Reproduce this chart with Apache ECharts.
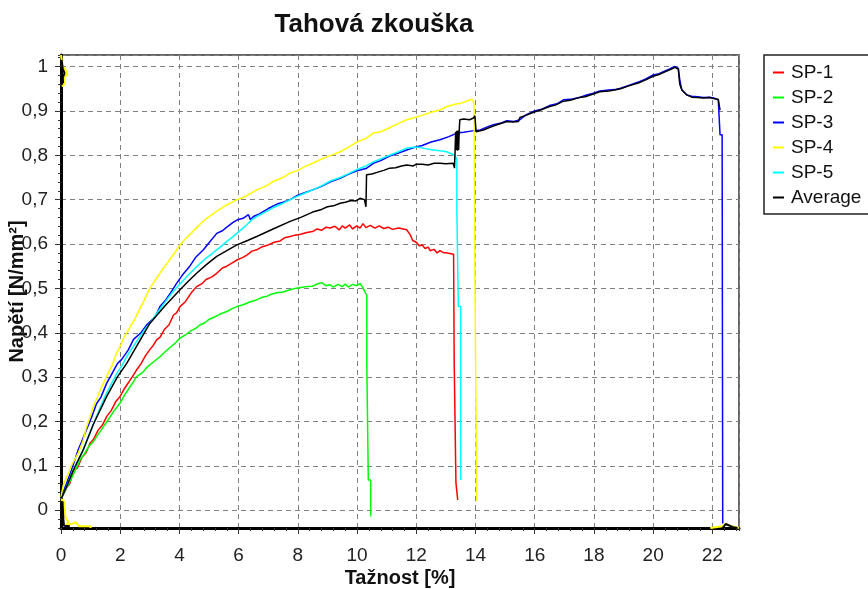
<!DOCTYPE html>
<html>
<head>
<meta charset="utf-8">
<script src="https://cdn.jsdelivr.net/npm/echarts@6.0.0/dist/echarts.min.js"></script>
<style>
html,body{margin:0;padding:0;background:#fff;}
#chart{width:868px;height:589px;}
</style>
</head>
<body>
<div id="chart"></div>
<script>
const chartTitle = 'Tahová zkouška';
const xAxisTitle = 'Tažnost [%]';
const yAxisTitle = 'Napětí [N/mm²]';
const seriesNames = ['SP-1', 'SP-2', 'SP-3', 'SP-4', 'SP-5', 'Average'];
const seriesColors = ['#ff0000', '#00ff00', '#0000ff', '#ffff00', '#00ffff', '#000000'];
const xTickLabels = ['0','2','4','6','8','10','12','14','16','18','20','22'];
const yTickLabels = ['0','0,1','0,2','0,3','0,4','0,5','0,6','0,7','0,8','0,9','1'];

const sp1 = [[0,0.025],[0.2,0.052],[0.3,0.06],[0.42,0.09],[0.55,0.095],[0.7,0.118],[0.85,0.13],[0.98,0.151],[1.1,0.16],[1.25,0.18],[1.4,0.192],[1.54,0.211],[1.7,0.225],[1.85,0.245],[1.99,0.256],[2.15,0.275],[2.3,0.29],[2.45,0.305],[2.55,0.316],[2.7,0.33],[2.85,0.348],[3.0,0.362],[3.1,0.37],[3.23,0.384],[3.35,0.39],[3.5,0.408],[3.65,0.418],[3.8,0.44],[3.9,0.445],[4.02,0.459],[4.2,0.47],[4.4,0.49],[4.58,0.504],[4.75,0.51],[4.9,0.52],[5.1,0.526],[5.26,0.534],[5.45,0.546],[5.6,0.55],[5.8,0.558],[5.94,0.564],[6.15,0.57],[6.3,0.576],[6.45,0.584],[6.61,0.587],[6.8,0.594],[7.0,0.598],[7.2,0.604],[7.4,0.607],[7.55,0.614],[7.74,0.617],[7.9,0.62],[8.1,0.622],[8.3,0.626],[8.5,0.628],[8.65,0.634],[8.8,0.631],[8.95,0.638],[9.09,0.636],[9.25,0.64],[9.4,0.632],[9.5,0.641],[9.6,0.636],[9.75,0.643],[9.85,0.634],[9.99,0.641],[10.1,0.636],[10.2,0.646],[10.3,0.637],[10.45,0.642],[10.6,0.636],[10.75,0.641],[10.9,0.635],[11.05,0.638],[11.2,0.633],[11.4,0.636],[11.68,0.632],[11.8,0.62],[11.88,0.608],[12.0,0.604],[12.1,0.596],[12.2,0.598],[12.3,0.59],[12.4,0.593],[12.47,0.585],[12.6,0.588],[12.7,0.58],[12.8,0.585],[12.9,0.581],[13.05,0.58],[13.26,0.577],[13.28,0.577],[13.28,0.335],[13.34,0.335],[13.34,0.061],[13.4,0.061],[13.4,0.023]];

const sp2 = [[0,0.025],[0.15,0.045],[0.3,0.065],[0.45,0.085],[0.64,0.113],[0.8,0.128],[0.95,0.145],[1.1,0.155],[1.2,0.166],[1.35,0.18],[1.5,0.195],[1.65,0.21],[1.8,0.225],[1.99,0.241],[2.15,0.26],[2.3,0.275],[2.45,0.29],[2.55,0.301],[2.75,0.31],[2.9,0.322],[3.1,0.333],[3.34,0.346],[3.5,0.356],[3.7,0.368],[3.85,0.376],[4.02,0.388],[4.2,0.395],[4.4,0.405],[4.55,0.41],[4.7,0.418],[4.85,0.422],[5.0,0.43],[5.2,0.436],[5.4,0.443],[5.6,0.448],[5.8,0.455],[5.94,0.459],[6.15,0.463],[6.4,0.47],[6.6,0.474],[6.8,0.48],[6.95,0.482],[7.1,0.487],[7.3,0.49],[7.5,0.492],[7.74,0.497],[7.9,0.5],[8.1,0.502],[8.3,0.504],[8.5,0.505],[8.65,0.51],[8.8,0.513],[8.95,0.506],[9.09,0.508],[9.2,0.503],[9.35,0.509],[9.5,0.504],[9.6,0.51],[9.7,0.503],[9.85,0.509],[9.99,0.506],[10.1,0.511],[10.16,0.512],[10.21,0.50],[10.28,0.49],[10.33,0.485],[10.33,0.324],[10.38,0.324],[10.38,0.068],[10.46,0.068],[10.46,-0.014]];

const sp3 = [[0,0.025],[0.1,0.045],[0.19,0.061],[0.35,0.09],[0.45,0.11],[0.58,0.136],[0.7,0.155],[0.85,0.18],[1.04,0.211],[1.2,0.24],[1.35,0.255],[1.54,0.286],[1.7,0.305],[1.9,0.33],[2.05,0.34],[2.27,0.361],[2.45,0.385],[2.7,0.40],[2.9,0.418],[3.18,0.436],[3.35,0.46],[3.55,0.475],[3.7,0.49],[3.91,0.512],[4.1,0.53],[4.35,0.55],[4.55,0.57],[4.81,0.587],[5.0,0.603],[5.26,0.624],[5.45,0.63],[5.6,0.638],[5.8,0.648],[5.94,0.654],[6.15,0.658],[6.33,0.666],[6.4,0.655],[6.5,0.662],[6.7,0.668],[7.0,0.68],[7.3,0.69],[7.5,0.694],[7.74,0.70],[8.0,0.71],[8.25,0.716],[8.5,0.722],[8.8,0.73],[9.1,0.74],[9.43,0.748],[9.7,0.757],[10.0,0.765],[10.3,0.77],[10.55,0.782],[10.8,0.788],[11.1,0.798],[11.4,0.805],[11.68,0.812],[11.95,0.818],[12.2,0.822],[12.5,0.83],[12.8,0.835],[13.1,0.842],[13.37,0.85],[13.6,0.852],[13.9,0.855],[14.16,0.857],[14.4,0.864],[14.6,0.869],[14.83,0.872],[15.06,0.878],[15.3,0.876],[15.5,0.88],[15.7,0.891],[15.96,0.899],[16.2,0.903],[16.5,0.912],[16.75,0.916],[16.97,0.925],[17.2,0.926],[17.5,0.93],[17.75,0.936],[17.98,0.94],[18.2,0.945],[18.5,0.947],[18.7,0.948],[18.9,0.951],[19.2,0.958],[19.5,0.965],[19.75,0.972],[20.0,0.981],[20.2,0.984],[20.4,0.99],[20.6,0.996],[20.74,1.0],[20.85,0.996],[20.9,0.97],[20.97,0.947],[21.14,0.936],[21.3,0.933],[21.5,0.932],[21.7,0.93],[21.9,0.931],[22.04,0.929],[22.2,0.925],[22.26,0.925],[22.26,0.846],[22.33,0.846],[22.35,-0.03]];

const sp4 = [[0,0.03],[0.08,0.057],[0.25,0.083],[0.36,0.102],[0.58,0.128],[0.75,0.158],[0.85,0.185],[0.98,0.21],[1.1,0.235],[1.2,0.25],[1.35,0.275],[1.49,0.294],[1.6,0.31],[1.75,0.33],[1.85,0.35],[1.99,0.368],[2.1,0.385],[2.22,0.4],[2.35,0.415],[2.5,0.432],[2.67,0.455],[2.8,0.472],[2.9,0.486],[3.0,0.5],[3.1,0.51],[3.2,0.52],[3.35,0.535],[3.46,0.546],[3.6,0.558],[3.75,0.572],[3.9,0.586],[4.02,0.598],[4.15,0.608],[4.3,0.618],[4.45,0.628],[4.58,0.637],[4.75,0.648],[4.9,0.657],[5.1,0.666],[5.26,0.674],[5.45,0.682],[5.6,0.688],[5.8,0.695],[5.94,0.70],[6.1,0.703],[6.3,0.71],[6.45,0.716],[6.61,0.722],[6.9,0.73],[7.2,0.742],[7.5,0.75],[7.74,0.76],[8.0,0.766],[8.25,0.775],[8.5,0.782],[8.75,0.79],[9.0,0.797],[9.2,0.802],[9.43,0.808],[9.7,0.818],[10.0,0.83],[10.3,0.838],[10.55,0.85],[10.8,0.853],[11.1,0.862],[11.4,0.872],[11.68,0.88],[11.95,0.885],[12.2,0.89],[12.5,0.897],[12.8,0.902],[13.05,0.91],[13.3,0.915],[13.55,0.918],[13.82,0.925],[13.9,0.926],[13.95,0.915],[13.99,0.45],[14.04,0.45],[14.04,0.02]];

const sp5 = [[0,0.025],[0.1,0.04],[0.2,0.055],[0.4,0.09],[0.55,0.108],[0.75,0.136],[0.9,0.162],[1.1,0.195],[1.3,0.228],[1.54,0.264],[1.7,0.285],[1.9,0.31],[2.05,0.325],[2.22,0.346],[2.4,0.365],[2.6,0.385],[2.8,0.405],[3.0,0.421],[3.25,0.445],[3.5,0.468],[3.75,0.49],[4.02,0.51],[4.3,0.53],[4.58,0.549],[4.9,0.568],[5.1,0.578],[5.26,0.587],[5.45,0.597],[5.6,0.606],[5.8,0.616],[5.94,0.624],[6.1,0.633],[6.3,0.645],[6.45,0.655],[6.61,0.662],[6.9,0.672],[7.2,0.683],[7.5,0.692],[7.74,0.70],[8.0,0.708],[8.25,0.715],[8.5,0.722],[8.8,0.731],[9.1,0.742],[9.43,0.75],[9.7,0.758],[10.0,0.768],[10.3,0.776],[10.55,0.785],[10.8,0.792],[11.1,0.80],[11.4,0.808],[11.68,0.816],[11.9,0.818],[12.1,0.818],[12.3,0.815],[12.58,0.812],[12.8,0.81],[13.03,0.808],[13.2,0.803],[13.31,0.80],[13.37,0.79],[13.37,0.677],[13.42,0.677],[13.42,0.459],[13.5,0.459],[13.5,0.068]];

const average = [[0,0.025],[0.2,0.055],[0.4,0.088],[0.75,0.136],[1.1,0.195],[1.54,0.256],[1.9,0.30],[2.22,0.331],[2.6,0.375],[3.0,0.421],[3.5,0.46],[4.02,0.497],[4.3,0.516],[4.58,0.534],[4.9,0.553],[5.26,0.572],[5.6,0.585],[5.94,0.598],[6.3,0.608],[6.61,0.617],[7.2,0.635],[7.74,0.651],[8.1,0.66],[8.5,0.672],[8.8,0.678],[9.0,0.684],[9.2,0.686],[9.43,0.692],[9.6,0.694],[9.8,0.698],[9.95,0.697],[10.1,0.703],[10.25,0.70],[10.3,0.684],[10.32,0.684],[10.32,0.756],[10.5,0.758],[10.7,0.762],[10.9,0.766],[11.1,0.771],[11.3,0.772],[11.5,0.776],[11.68,0.778],[11.9,0.776],[12.0,0.78],[12.2,0.78],[12.4,0.778],[12.6,0.782],[12.8,0.782],[13.0,0.781],[13.25,0.782],[13.29,0.771],[13.31,0.81],[13.33,0.853],[13.35,0.812],[13.37,0.855],[13.39,0.81],[13.41,0.856],[13.43,0.812],[13.45,0.855],[13.47,0.88],[13.6,0.882],[13.8,0.88],[13.93,0.884],[13.98,0.889],[14.02,0.853],[14.27,0.857],[14.45,0.862],[14.6,0.866],[14.83,0.871],[15.06,0.876],[15.25,0.875],[15.45,0.876],[15.5,0.885],[15.7,0.89],[15.96,0.897],[16.2,0.902],[16.35,0.906],[16.5,0.91],[16.7,0.913],[16.97,0.922],[17.2,0.924],[17.5,0.93],[17.7,0.932],[17.98,0.938],[18.2,0.943],[18.5,0.945],[18.7,0.947],[18.9,0.95],[19.2,0.957],[19.5,0.963],[19.75,0.97],[20.0,0.978],[20.2,0.982],[20.4,0.988],[20.6,0.994],[20.74,0.998],[20.85,0.994],[20.9,0.96],[20.97,0.947],[21.14,0.936],[21.3,0.931],[21.5,0.93],[21.7,0.929],[21.9,0.93],[22.04,0.928],[22.2,0.926],[22.26,0.926],[22.26,0.902]];

const yellowTopLeft = [[0,1.026],[0.06,1.0],[0.18,0.99],[0.21,0.982],[0.1,0.975],[0.12,0.96],[0.03,0.955]];
const blackTopLeft = [[0.02,1.015],[0.06,0.995],[0.12,0.985],[0.06,0.975],[0.07,0.962]];
const yellowBottomLeft = [[0.0,0.025],[0.1,0.02],[0.12,0.0],[0.16,-0.018],[0.25,-0.026],[0.18,-0.034],[0.4,-0.03],[0.5,-0.027],[0.6,-0.036],[1.0,-0.036],[1.0,-0.04]];
const blackBottomLeft = [[0.05,0.02],[0.08,-0.02],[0.1,-0.035],[0.3,-0.036]];
const yellowBottomRight = [[21.93,-0.04],[21.93,-0.036],[22.35,-0.036],[22.45,-0.03],[22.6,-0.035],[22.9,-0.04]];
const blackBottomRight = [[22.35,-0.04],[22.45,-0.031],[22.7,-0.038],[22.85,-0.04]];

const curves = [sp1, sp2, sp3, sp4, sp5, average];
const artifacts = [
  [yellowTopLeft, '#ffff00'], [blackTopLeft, '#000000'],
  [yellowBottomLeft, '#ffff00'], [blackBottomLeft, '#000000'],
  [yellowBottomRight, '#ffff00'], [blackBottomRight, '#000000']
];

const FONT = 'Liberation Sans, Arial, sans-serif';
const series = curves.map((d, i) => ({
  name: seriesNames[i], type: 'line', data: d, symbol: 'none', showSymbol: false,
  color: seriesColors[i], lineStyle: { width: 1.5, color: seriesColors[i] },
  itemStyle: { color: seriesColors[i] }, silent: true, animation: false
}));
artifacts.forEach((a, k) => series.push({
  name: '_art' + k, type: 'line', data: a[0], symbol: 'none', silent: true, animation: false,
  lineStyle: { width: 2, color: a[1] }, itemStyle: { color: a[1] }, z: 3
}));

function yFmt(v) {
  const i = Math.round(v * 10);
  if (Math.abs(v * 10 - i) > 1e-6 || i < 0 || i >= yTickLabels.length) return '';
  return yTickLabels[i];
}
function xFmt(v) {
  const i = Math.round(v / 2);
  if (Math.abs(v / 2 - i) > 1e-6 || i < 0 || i >= xTickLabels.length) return '';
  return xTickLabels[i];
}

const chart = echarts.init(document.getElementById('chart'), null, { renderer: 'canvas' });
chart.setOption({
  animation: false,
  backgroundColor: '#ffffff',
  title: {
    text: chartTitle, left: 374, top: 12, padding: 0, textAlign: 'center',
    textStyle: { fontFamily: FONT, fontWeight: 'bold', fontSize: 26, color: '#111' }
  },
  legend: {
    data: seriesNames, orient: 'vertical', left: 764, top: 55,
    icon: 'rect', itemWidth: 11, itemHeight: 2, itemGap: 6,
    padding: [8, 14, 7, 9], borderColor: '#222', borderWidth: 1.5,
    selectedMode: false,
    textStyle: { fontFamily: FONT, fontSize: 19, color: '#111', padding: [0, 0, 0, 2] }
  },
  grid: { left: 61, right: 129, top: 55, bottom: 61, show: true, borderColor: '#333', borderWidth: 1.5,
          backgroundColor: 'transparent', containLabel: false, outerBoundsMode: 'none' },
  xAxis: [{
    type: 'value', min: 0, max: 22.9, splitNumber: 11,
    name: xAxisTitle, nameLocation: 'middle', nameGap: 40, nameMoveOverlap: false,
    nameTextStyle: { fontFamily: FONT, fontWeight: 'bold', fontSize: 20, color: '#111' },
    axisLine: { show: true, onZero: false, lineStyle: { color: '#000', width: 3 } },
    axisTick: { show: true, length: 6, lineStyle: { color: '#333', width: 1 } },
    axisLabel: { formatter: xFmt, fontFamily: FONT, fontSize: 19, color: '#222', margin: 18, showMaxLabel: false },
    splitLine: { show: true, lineStyle: { color: '#808080', type: [5, 4], width: 1 } }
  }, {
    type: 'value', min: 0, max: 22.9, interval: 0.4, position: 'bottom',
    axisLine: { show: false, onZero: false }, axisLabel: { show: false },
    axisTick: { show: true, length: 3, lineStyle: { color: '#333', width: 1 } },
    splitLine: { show: false }
  }],
  yAxis: [{
    type: 'value', min: -0.04, max: 1.026, splitNumber: 10,
    name: yAxisTitle, nameLocation: 'middle', nameGap: 34, nameRotate: 90, nameMoveOverlap: false,
    nameTextStyle: { fontFamily: FONT, fontWeight: 'bold', fontSize: 20, color: '#111' },
    axisLine: { show: true, onZero: false, lineStyle: { color: '#000', width: 3 } },
    axisTick: { show: true, length: 6, lineStyle: { color: '#333', width: 1 } },
    axisLabel: { formatter: yFmt, fontFamily: FONT, fontSize: 19, color: '#222', margin: 13, showMinLabel: false, showMaxLabel: false },
    splitLine: { show: true, lineStyle: { color: '#808080', type: [5, 4], width: 1 } }
  }, {
    type: 'value', min: -0.04, max: 1.026, interval: 0.02, position: 'left',
    axisLine: { show: false, onZero: false }, axisLabel: { show: false },
    axisTick: { show: true, length: 3, lineStyle: { color: '#333', width: 1 } },
    splitLine: { show: false }
  }],
  series: series
});
</script>
</body>
</html>
